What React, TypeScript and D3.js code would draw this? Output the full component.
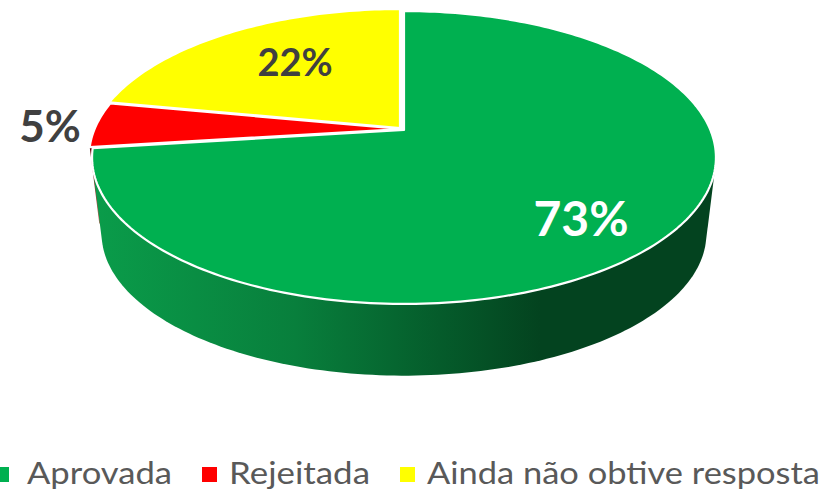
import React from 'react';
import * as d3 from 'd3';

const categories = ['Aprovada', 'Rejeitada', 'Ainda não obtive resposta'];
const shares = [73, 5, 22];
const sliceColors = ['#00B050', '#FF0000', '#FFFF00'];
const labelColors = ['#FFFFFF', '#404040', '#404040'];

const width = 825;
const height = 490;

// perspective of the pie: a circle seen from above, far side smaller
const persp = 0.1877;
const topView = { cx: 404, cy: 130, rx: 306.4, ry: 141.3 };
const bottomView = { cx: 404, cy: 207, rx: 297, ry: 137 };

// how far every slice is pulled out of the pie, and where the labels sit
const sliceShift = [[0, 0], [-3, -1], [-4, -2]];
const labelPos = [[581, 219], [50, 127], [295, 63]];
const legendPos = [
  { box: -6, text: 27, len: 145 },
  { box: 202, text: 229, len: 141 },
  { box: 400, text: 427, len: 393 },
];

type View = typeof topView;

// angle is clockwise from 12 o'clock, r is 0..1
function project(view: View, angle: number, r = 1): [number, number] {
  const u = r * Math.sin(angle);
  const v = r * Math.cos(angle);
  const w = 1 + persp * v;
  return [view.cx + (view.rx * u) / w, view.cy - (view.ry * v) / w];
}

function rim(view: View, a0: number, a1: number): [number, number][] {
  const n = Math.max(2, Math.ceil(Math.abs(a1 - a0) / 0.02));
  return d3.range(n + 1).map(i => project(view, a0 + ((a1 - a0) * i) / n));
}

const line = d3.line();

export default function App() {
  const arcs = d3.pie<number>().sort(null)(shares);
  const green = arcs[0];
  const red = arcs[1];

  // green side wall: hull of the near part of both rims
  const wallStart = Math.PI / 2;
  const wall = d3.polygonHull([
    ...rim(topView, wallStart, green.endAngle),
    ...rim(bottomView, wallStart, green.endAngle),
  ]) as [number, number][];

  // sliver of the red slice side that peeks out behind the green wall
  const redWall = [
    project(topView, red.startAngle),
    project(bottomView, red.startAngle),
    project(bottomView, red.startAngle, 0.9),
    project(topView, red.startAngle, 0.9),
  ] as [number, number][];

  return (
    <svg
      width={width}
      height={height}
      viewBox={`0 0 ${width} ${height}`}
      style={{ position: 'absolute', left: 0, top: 0, fontFamily: 'Lato, sans-serif' }}
    >
      <defs>
        <linearGradient id="greenSide" gradientUnits="userSpaceOnUse" x1="95" x2="540" y1="0" y2="0">
          <stop offset="0" stopColor="#0A9C4A" />
          <stop offset="0.45" stopColor="#087F3C" />
          <stop offset="1" stopColor="#03431F" />
        </linearGradient>
        <linearGradient id="redSide" x1="0" x2="0" y1="0" y2="1">
          <stop offset="0" stopColor="#5E0000" />
          <stop offset="1" stopColor="#D06060" />
        </linearGradient>
      </defs>

      <path
        d={line(redWall) + 'Z'}
        fill="url(#redSide)"
        transform={`translate(${sliceShift[1][0]},${sliceShift[1][1]})`}
      />
      <path d={line(wall) + 'Z'} fill="url(#greenSide)" />

      {arcs.map((d, i) => {
        const pts = [project(topView, 0, 0), ...rim(topView, d.startAngle, d.endAngle)];
        return (
          <path
            key={categories[i]}
            d={line(pts) + 'Z'}
            fill={sliceColors[i]}
            stroke="#FFFFFF"
            strokeWidth={2.2}
            strokeLinejoin="round"
            transform={`translate(${sliceShift[i][0]},${sliceShift[i][1]})`}
          />
        );
      })}

      {shares.map((v, i) => (
        <text
          key={i}
          x={labelPos[i][0]}
          y={labelPos[i][1]}
          dy="0.35em"
          textAnchor="middle"
          fontSize={i === 0 ? 48 : i === 1 ? 44 : 38}
          fontWeight={700}
          fill={labelColors[i]}
        >
          {v}%
        </text>
      ))}

      {categories.map((c, i) => (
        <g key={c}>
          <rect x={legendPos[i].box} y={467} width={15} height={15} fill={sliceColors[i]} />
          <text
            x={legendPos[i].text}
            y={483.5}
            fontSize={31}
            fill="#595959"
            textLength={legendPos[i].len}
            lengthAdjust="spacingAndGlyphs"
          >
            {c}
          </text>
        </g>
      ))}
    </svg>
  );
}
